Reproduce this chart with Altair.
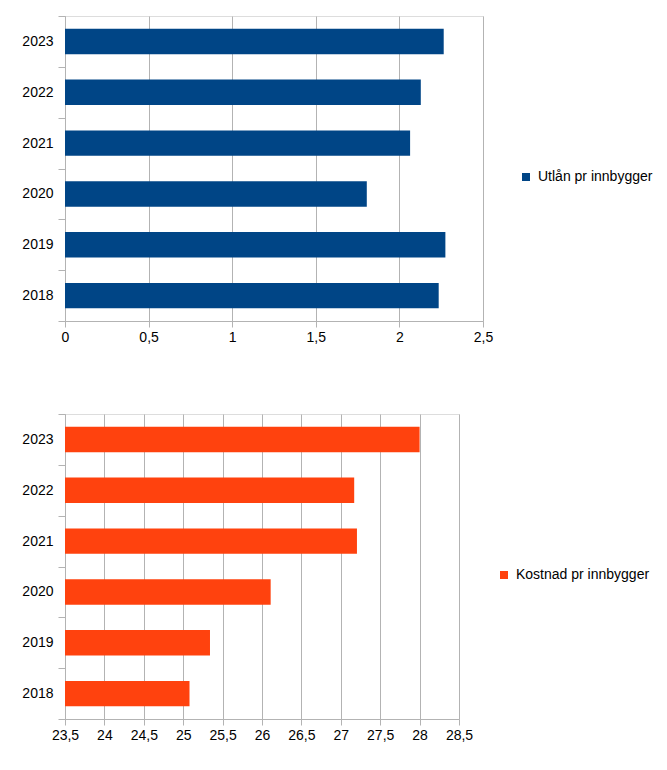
import altair as alt
import pandas as pd

years = ["2018", "2019", "2020", "2021", "2022", "2023"]
utlan = [2.235, 2.275, 1.805, 2.064, 2.128, 2.265]
kostnad = [25.08, 25.34, 26.11, 27.205, 27.17, 28.0]
utlan_ticks = [0, 0.5, 1, 1.5, 2, 2.5]
kostnad_ticks = [23.5, 24, 24.5, 25, 25.5, 26, 26.5, 27, 27.5, 28, 28.5]
series1 = "Utlån pr innbygger"
series2 = "Kostnad pr innbygger"

FONT = "Liberation Sans"
GRID = "#b3b3b3"
HEIGHT = 305

df1 = pd.DataFrame({"year": years, "value": utlan, "series": series1})
df2 = pd.DataFrame({"year": years, "value": kostnad, "series": series2})

label_expr = "replace(toString(datum.value), '.', ',')"


def panel(df, ticks, color, series, width, legend_x):
    y_axis = alt.Axis(
        title=None, labelFont=FONT, labelFontSize=14, labelColor="#000",
        domainColor=GRID, tickColor=GRID, tickSize=7, grid=False,
        tickBand="extent", labelPadding=5,
    )
    x_axis = alt.Axis(
        title=None, values=ticks, labelExpr=label_expr, labelFont=FONT,
        labelFontSize=14, labelColor="#000", domainColor=GRID, tickColor=GRID,
        tickSize=6, gridColor=GRID, grid=True, labelPadding=3,
        labelFlush=False,
    )
    return alt.Chart(df).mark_bar(height={"band": 0.5}).encode(
        y=alt.Y("year:N", sort="descending", axis=y_axis,
                scale=alt.Scale(paddingInner=0, paddingOuter=0)),
        x=alt.X("value:Q", axis=x_axis,
                scale=alt.Scale(domain=[ticks[0], ticks[-1]], zero=False,
                                nice=False, clamp=True)),
        color=alt.Color(
            "series:N",
            scale=alt.Scale(domain=[series], range=[color]),
            legend=alt.Legend(
                title=None, orient="none", legendX=legend_x, legendY=154,
                labelFont=FONT, labelFontSize=14, labelColor="#000",
                symbolType="square", symbolSize=64, symbolStrokeWidth=0,
                padding=0, labelOffset=5,
            ),
        ),
    ).properties(width=width, height=HEIGHT)


c1 = panel(df1, utlan_ticks, "#004586", series1, 418, 454)
c2 = panel(df2, kostnad_ticks, "#ff420e", series2, 394, 432)

chart = (
    alt.vconcat(c1, c2, spacing=93, bounds="flush")
    .resolve_scale(x="independent", y="independent", color="independent")
    .resolve_legend(color="independent")
    .properties(padding={"left": 21, "top": 8, "right": 0, "bottom": 0})
    .configure_view(stroke=GRID, strokeWidth=1)
    .configure(background="white")
)

chart.save("out.html", embed_options={"renderer": "svg", "actions": False})
